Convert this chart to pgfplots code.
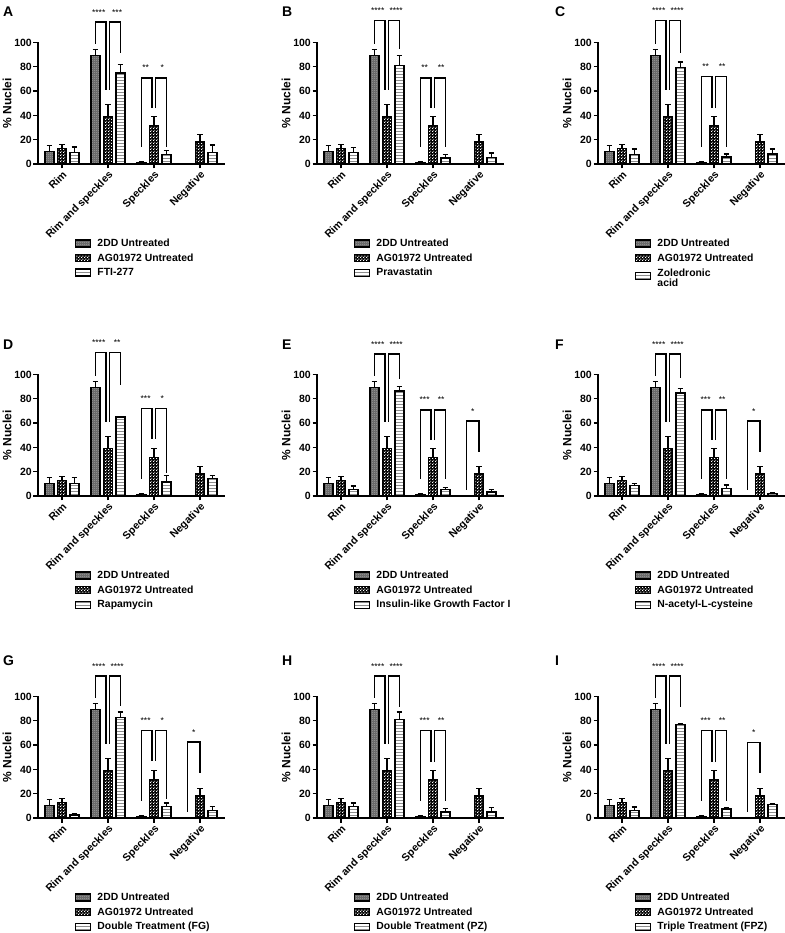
\documentclass[border=0pt]{standalone}
\usepackage{fontspec}
\setmainfont{Liberation Sans}
\usepackage{pgfplots}
\pgfplotsset{compat=1.18}
\usetikzlibrary{patterns}

\pgfdeclarepatternformonly{wchk}{\pgfpointorigin}{\pgfqpoint{3pt}{3pt}}{\pgfqpoint{3pt}{3pt}}{%
  \pgfpathrectangle{\pgfqpoint{0.2pt}{0.2pt}}{\pgfqpoint{1.2pt}{1.2pt}}%
  \pgfpathrectangle{\pgfqpoint{1.7pt}{1.7pt}}{\pgfqpoint{1.2pt}{1.2pt}}%
  \pgfusepath{fill}}
\pgfdeclarepatternformonly{fdots}{\pgfpointorigin}{\pgfqpoint{2pt}{2pt}}{\pgfqpoint{2pt}{2pt}}{%
  \pgfpathrectangle{\pgfpointorigin}{\pgfqpoint{1pt}{1pt}}\pgfusepath{fill}}

\tikzset{
 sA/.style={draw=black, line width=1.3pt, preaction={fill=black!58}, pattern=fdots, pattern color=black!25},
 sB/.style={draw=black, line width=1.3pt, preaction={fill=black}, pattern=wchk, pattern color=white},
 sC/.style={draw=black, line width=1.3pt, preaction={fill=white}, pattern=horizontal lines, pattern color=black!45},
}

\pgfplotsset{
 panel/.style={
  x=46pt, y=1.215pt, xmin=-0.52, xmax=3.54, ymin=0, ymax=100,
  anchor=south west, clip=false,
  axis x line*=bottom, axis y line*=left,
  axis line style={-, line width=1.4pt},
  xtick={0,1,2,3}, xticklabels={Rim, Rim and speckles, Speckles, Negative},
  ytick={0,20,40,60,80,100},
  tick align=outside, major tick length=4.5pt,
  tick style={black, line width=1.3pt},
  minor tick num=0,
  xticklabel style={rotate=45, anchor=north east, font=\bfseries\fontsize{10.6}{12}\selectfont, inner sep=1pt},
  yticklabel style={font=\bfseries\fontsize{10.5}{12}\selectfont, inner sep=1.5pt},
  /pgf/number format/assume math mode=true,
  ylabel={\% Nuclei}, ylabel style={font=\bfseries\fontsize{12}{13}\selectfont, inner sep=1pt},
  error bars/error bar style={line width=1.2pt, black},
  error bars/error mark options={rotate=90, mark size=2.8pt, line width=1.2pt, black},
  legend image code/.code={\draw[##1] (0pt,-3.5pt) rectangle (15pt,3.5pt);},
  legend style={at={(0.198,-0.60)}, anchor=north west, draw=none, fill=none, inner sep=0pt, row sep=1.5pt,
     font=\bfseries\fontsize{10.4}{12}\selectfont, column sep=4pt},
  legend cell align=left,
 },
}

% bars are placed at their own x positions (group centre -0.272, 0, +0.272)
\newcommand{\commonbars}{%
\addplot[ybar, bar width=9pt, bar shift=0pt, sA, forget plot, error bars/.cd, y dir=plus, y explicit]
  coordinates {(-0.272,10.5) +- (0,5.0) (0.728,89.3) +- (0,4.7) (1.728,1.0) +- (0,0.6)};
\addplot[ybar, bar width=9pt, bar shift=0pt, sB, forget plot, error bars/.cd, y dir=plus, y explicit]
  coordinates {(0,12.6) +- (0,3.2) (1,39.0) +- (0,10.2) (2,31.8) +- (0,7.3) (3,18.2) +- (0,5.8)};
}
\newcommand{\third}[1]{%
\addplot[ybar, bar width=9pt, bar shift=0pt, sC, forget plot, error bars/.cd, y dir=plus, y explicit]
  coordinates {#1};}
\newcommand{\br}[1]{\addplot[black, line width=1.6pt, forget plot] coordinates {#1};}
\newcommand{\st}[3]{\node[font=\fontsize{8.5}{9}\selectfont, inner sep=0pt] at (axis cs:#1,#2) {#3};}
% Rim and speckles brackets: h, left, mid, right, star1, star2
\newcommand{\rsbr}[6]{%
 \br{(0.728,#2) (0.728,#1) (0.962,#1) (0.962,#3)}
 \br{(1.038,#3) (1.038,#1) (1.272,#1) (1.272,#4)}
 \st{0.80}{#1+8}{#5}\st{1.20}{#1+8}{#6}}
\newcommand{\spbr}[6]{%
 \br{(1.728,#2) (1.728,#1) (1.962,#1) (1.962,#3)}
 \br{(2.038,#3) (2.038,#1) (2.272,#1) (2.272,#4)}
 \st{1.82}{#1+8}{#5}\st{2.18}{#1+8}{#6}}
\newcommand{\negbr}[3]{%
 \br{(2.728,#2) (2.728,#1) (3.0,#1) (3.0,#3)}
 \st{2.864}{#1+8}{*}}
\newcommand{\leg}[1]{%
 \addlegendimage{sA}\addlegendentry{2DD Untreated}
 \addlegendimage{sB}\addlegendentry{AG01972 Untreated}
 \addlegendimage{sC}\addlegendentry{#1}}
\newcommand{\plabel}[3]{\node[anchor=west, font=\bfseries\fontsize{14}{14}\selectfont, inner sep=0pt] at (#1,#2) {#3};}

\begin{document}
\begin{tikzpicture}
\useasboundingbox (0,0) rectangle (784pt,933pt);
% ---------- Row 1 ----------
\begin{axis}[panel, at={(38pt,769pt)}]
\leg{FTI-277}
\commonbars
\third{(0.272,9.3) +- (0,4.7) (1.272,74.8) +- (0,7.1) (2.272,8.0) +- (0,3.2) (3.272,9.3) +- (0,6.3)}
\rsbr{117}{99}{61}{91}{****}{***}
\spbr{71}{14}{46}{14}{**}{*}
\end{axis}
\begin{axis}[panel, at={(317pt,769pt)}]
\leg{Pravastatin}
\commonbars
\third{(0.272,9.6) +- (0,3.9) (1.272,81.3) +- (0,7.7) (2.272,5.0) +- (0,2.7) (3.272,5.5) +- (0,3.5)}
\rsbr{118}{99}{61}{95}{****}{****}
\spbr{71}{14}{46}{14}{**}{**}
\end{axis}
\begin{axis}[panel, at={(598pt,769pt)}]
\leg{\begin{tabular}{@{}l@{}}Zoledronic\\[-2pt]acid\end{tabular}}
\commonbars
\third{(0.272,7.7) +- (0,4.7) (1.272,79.7) +- (0,4.3) (2.272,5.8) +- (0,2.4) (3.272,8.2) +- (0,4.2)}
\rsbr{118}{99}{61}{91}{****}{****}
\spbr{72}{14}{46}{14}{**}{**}
\end{axis}
% ---------- Row 2 ----------
\begin{axis}[panel, at={(38pt,437pt)}]
\leg{Rapamycin}
\commonbars
\third{(0.272,10.5) +- (0,4.5) (1.272,65.0) +- (0,0.5) (2.272,11.6) +- (0,5.4) (3.272,14.6) +- (0,2.2)}
\rsbr{118}{99}{61}{91}{****}{**}
\spbr{72}{14}{47}{19}{***}{*}
\end{axis}
\begin{axis}[panel, at={(317pt,437pt)}]
\leg{Insulin-like Growth Factor I}
\commonbars
\third{(0.272,5.5) +- (0,2.7) (1.272,86.5) +- (0,3.9) (2.272,5.2) +- (0,1.9) (3.272,3.3) +- (0,2.2)}
\rsbr{117}{99}{61}{96}{****}{****}
\spbr{71}{14}{46}{14}{***}{**}
\negbr{61.5}{5}{36}
\end{axis}
\begin{axis}[panel, at={(598pt,437pt)}]
\leg{N-acetyl-L-cysteine}
\commonbars
\third{(0.272,8.5) +- (0,1.9) (1.272,84.7) +- (0,3.8) (2.272,6.3) +- (0,2.7) (3.272,1.9) +- (0,0.6)}
\rsbr{117}{99}{61}{97}{****}{****}
\spbr{71}{14}{46}{14}{***}{**}
\negbr{61.5}{5}{36}
\end{axis}
% ---------- Row 3 ----------
\begin{axis}[panel, at={(38pt,115pt)}]
\leg{Double Treatment (FG)}
\commonbars
\third{(0.272,2.5) +- (0,1.1) (1.272,82.6) +- (0,4.7) (2.272,9.6) +- (0,2.8) (3.272,6.0) +- (0,3.4)}
\rsbr{117}{99}{61}{92}{****}{****}
\spbr{72}{14}{47}{16}{***}{*}
\negbr{62.5}{5}{37}
\end{axis}
\begin{axis}[panel, at={(317pt,115pt)}]
\leg{Double Treatment (PZ)}
\commonbars
\third{(0.272,9.6) +- (0,2.8) (1.272,81.3) +- (0,6.0) (2.272,5.0) +- (0,3.0) (3.272,5.0) +- (0,3.8)}
\rsbr{117}{99}{61}{91}{****}{****}
\spbr{72}{14}{46}{14}{***}{**}
\end{axis}
\begin{axis}[panel, at={(598pt,115pt)}]
\leg{Triple Treatment (FPZ)}
\commonbars
\third{(0.272,6.3) +- (0,2.8) (1.272,77.0) +- (0,1.0) (2.272,7.4) +- (0,1.1) (3.272,11.0) +- (0,0.6)}
\rsbr{117}{99}{61}{91}{****}{****}
\spbr{72}{14}{46}{14}{***}{**}
\negbr{62}{5}{37}
\end{axis}
% panel letters
\plabel{3pt}{921pt}{A}\plabel{282pt}{921pt}{B}\plabel{555pt}{921pt}{C}
\plabel{3pt}{588pt}{D}\plabel{282pt}{588pt}{E}\plabel{555pt}{588pt}{F}
\plabel{3pt}{272pt}{G}\plabel{282pt}{272pt}{H}\plabel{555pt}{272pt}{I}
\end{tikzpicture}
\end{document}
